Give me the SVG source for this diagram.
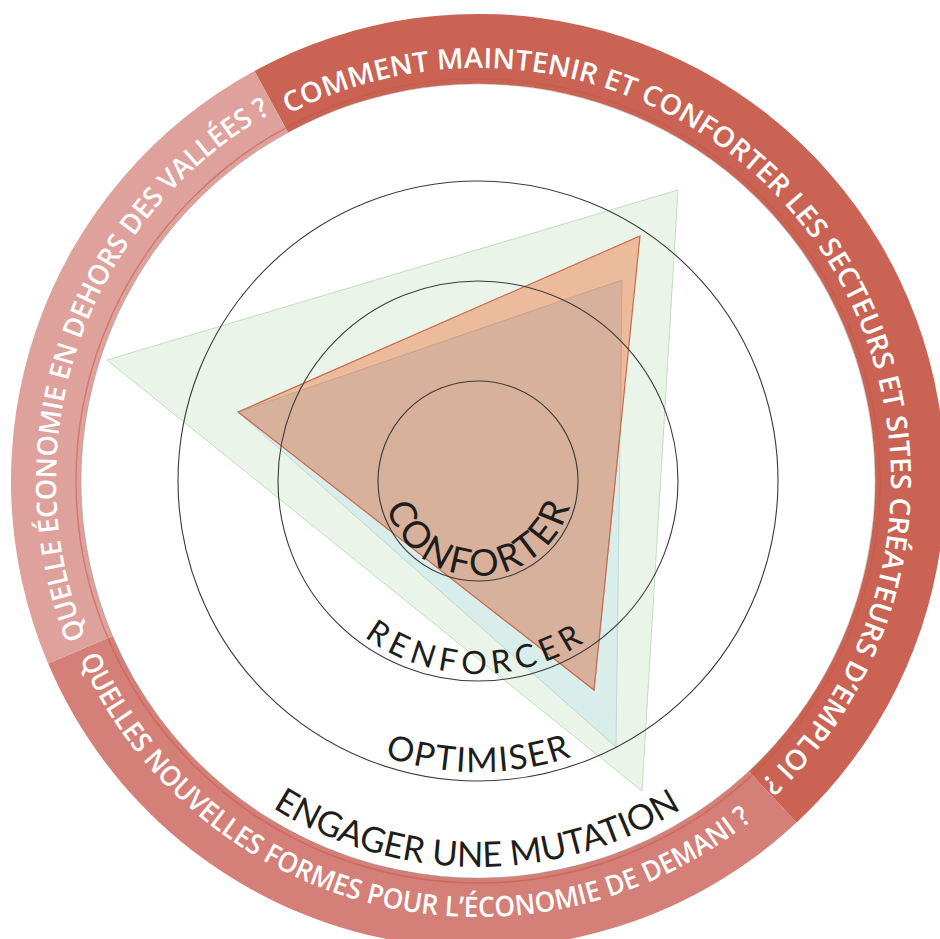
<svg xmlns="http://www.w3.org/2000/svg" width="940" height="939" viewBox="0 0 940 939">
  <defs>
    <style>
      .ringtxt { font-family: "Open Sans", "Liberation Sans", sans-serif; font-weight: 600; font-size: 28px; fill: #ffffff; }
      .lbl { font-family: Lato, "Open Sans", "Liberation Sans", sans-serif; font-weight: 400; fill: #1d1d1b; }
      .circ { fill: none; stroke: #3a3a3a; stroke-width: 1.1; }
    </style>
    <path id="pDark" d="M 288.6 114.0 A 413 413 0 0 1 760.7 782.1"/>
    <path id="pLeft" d="M 85.9 637.0 A 422 422 0 0 1 270.8 113.4"/>
    <path id="pBottom" d="M 79.7 658.3 A 436 436 0 0 0 752.4 819.8"/>
    <path id="pConf" d="M 383 481 A 95 95 0 0 0 573 481"/>
    <path id="pRenf" d="M 285 481 A 193 193 0 0 0 671 481"/>
    <path id="pOpt" d="M 187 481 A 291 291 0 0 0 769 481"/>
    <path id="pEng" d="M 92 481 A 386 386 0 0 0 864 481"/>
  </defs>
  <rect width="940" height="939" fill="#ffffff"/>

  <g id="ring">
    <path id="seg-dark" d="M 254.4 71.0 A 467 467 0 0 1 796.5 822.6 L 748.8 771.4 A 397 397 0 0 0 288.0 132.4 Z" fill="#CA6353"/>
    <path id="seg-medium" d="M 796.5 822.6 A 467 467 0 0 1 48.1 663.5 L 112.6 636.1 A 397 397 0 0 0 748.8 771.4 Z" fill="#D47F77"/>
    <path id="seg-light" d="M 48.1 663.5 A 467 467 0 0 1 254.4 71.0 L 288.0 132.4 A 397 397 0 0 0 112.6 636.1 Z" fill="#DFA19B"/>
    <circle cx="478" cy="481" r="402" fill="none" stroke="#C45A48" stroke-width="1.5" opacity="0.55"/>
    <circle cx="478" cy="481" r="397" fill="none" stroke="#8a8a8a" stroke-width="0.8" opacity="0.5"/>
    <text class="ringtxt"><textPath href="#pDark" textLength="1183" lengthAdjust="spacingAndGlyphs">COMMENT MAINTENIR ET CONFORTER LES SECTEURS ET SITES CRÉATEURS D’EMPLOI ?</textPath></text>
    <text class="ringtxt"><textPath href="#pLeft" textLength="606" lengthAdjust="spacingAndGlyphs">QUELLE ÉCONOMIE EN DEHORS DES VALLÉES ?</textPath></text>
    <text class="ringtxt"><textPath href="#pBottom" textLength="799" lengthAdjust="spacingAndGlyphs">QUELLES NOUVELLES FORMES POUR L’ÉCONOMIE DE DEMANI ?</textPath></text>
  </g>

  <g id="triangles">
    <polygon id="tri-green" points="107,360 678,190 642,791" fill="#EBF4E9" stroke="#C5DBC3" stroke-width="1"/>
    <polygon id="tri-blue" points="238,412 622,280 616,747" fill="#D9EDEB" stroke="#BCD8D6" stroke-width="1"/>
    <polygon id="tri-orange" points="238,412 640,236 594,690" fill="#ECBB9B"/>
    <polygon id="tri-overlap" points="238,412 622,280 620.4,429 594,690" fill="#D7B19C" stroke="#C49C87" stroke-width="0.8"/>
    <polygon points="238,412 640,236 594,690" fill="none" stroke="#C96B4E" stroke-width="1.2"/>
  </g>

  <g id="circles">
    <circle class="circ" cx="478" cy="481" r="100"/>
    <circle class="circ" cx="478" cy="481" r="200"/>
    <circle class="circ" cx="478" cy="481" r="300"/>
  </g>

  <g id="labels">
    <text class="lbl" font-size="37" text-anchor="middle"><textPath href="#pConf" startOffset="50%" textLength="246" lengthAdjust="spacing">CONFORTER</textPath></text>
    <text class="lbl" font-size="32" text-anchor="middle"><textPath href="#pRenf" startOffset="49.2%" textLength="234" lengthAdjust="spacing">RENFORCER</textPath></text>
    <text class="lbl" font-size="34" text-anchor="middle"><textPath href="#pOpt" startOffset="50%" textLength="190" lengthAdjust="spacing">OPTIMISER</textPath></text>
    <text class="lbl" font-size="35" text-anchor="middle"><textPath href="#pEng" startOffset="49.9%" textLength="431" lengthAdjust="spacingAndGlyphs">ENGAGER UNE MUTATION</textPath></text>
  </g>
</svg>
